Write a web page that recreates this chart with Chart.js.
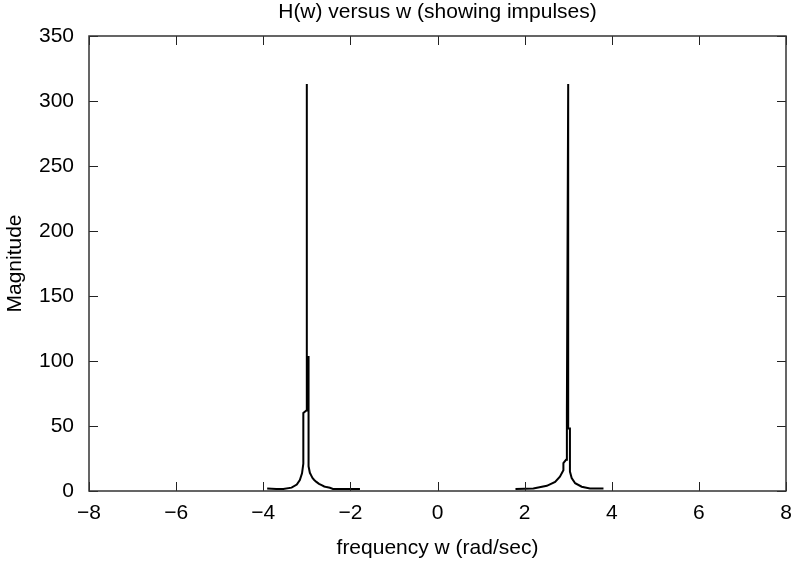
<!DOCTYPE html>
<html>
<head>
<meta charset="utf-8">
<script src="https://cdn.jsdelivr.net/npm/chart.js@4/dist/chart.umd.min.js"></script>
<style>
  html, body { margin: 0; padding: 0; background: #ffffff; }
  #wrap { width: 792px; height: 566px; }
</style>
</head>
<body>
<div id="wrap"><canvas id="c" width="792" height="566"></canvas></div>
<script>
// ---- Data ----
const titleText = "H(w) versus w (showing impulses)";
const xTitle = "frequency w (rad/sec)";
const yTitle = "Magnitude";

const xTicks = [-8, -6, -4, -2, 0, 2, 4, 6, 8];
const yTicks = [0, 50, 100, 150, 200, 250, 300, 350];

// Negative-frequency impulse region
const leftW = [-3.91, -3.70, -3.54, -3.35, -3.23, -3.16, -3.11, -3.08, -3.08, -3.01, -3.00, -3.00, -2.96, -2.96,
               -2.93, -2.90, -2.87, -2.83, -2.78, -2.72, -2.66, -2.60, -2.55, -2.47, -2.40, -2.00, -1.78];
const leftH = [2.0, 1.5, 1.5, 2.6, 5.0, 8.5, 13.6, 21, 60, 62, 313, 103, 103, 19,
               14, 12, 10, 8.5, 7, 5.5, 4.5, 3.5, 3.0, 2.5, 1.6, 1.5, 1.5];

// Positive-frequency impulse region
const rightW = [1.79, 2.20, 2.51, 2.70, 2.81, 2.89, 2.89, 2.95, 2.97, 3.00, 3.00, 3.04, 3.04,
                3.08, 3.16, 3.31, 3.50, 3.81];
const rightH = [1.5, 2.0, 4.0, 7.0, 11, 16, 21.5, 24, 61, 313, 48, 48, 15,
                10, 6.0, 3.3, 2.0, 2.0];

function toPoints(xs, ys) { return xs.map((x, i) => ({ x: x, y: ys[i] })); }

const FONT = "'Liberation Sans', Arial, Helvetica, sans-serif";
const fmt = v => String(v).replace('-', '\u2212');

// Frame and inward tick marks (gnuplot style)
const framePlugin = {
  id: 'frame',
  afterDatasetsDraw(chart) {
    const { ctx, chartArea: a, scales } = chart;
    const xs = scales.x, ys = scales.y;
    const L = 9;
    ctx.save();
    ctx.strokeStyle = '#222';
    ctx.lineWidth = 1;
    ctx.beginPath();
    xTicks.forEach(v => {
      const px = Math.round(xs.getPixelForValue(v)) + 0.5;
      ctx.moveTo(px, a.bottom); ctx.lineTo(px, a.bottom - L);
      ctx.moveTo(px, a.top); ctx.lineTo(px, a.top + L);
    });
    yTicks.forEach(v => {
      const py = Math.round(ys.getPixelForValue(v)) + 0.5;
      ctx.moveTo(a.left, py); ctx.lineTo(a.left + L, py);
      ctx.moveTo(a.right, py); ctx.lineTo(a.right - L, py);
    });
    ctx.stroke();
    ctx.lineWidth = 1.5;
    ctx.strokeStyle = '#333';
    ctx.strokeRect(a.left, a.top, a.right - a.left, a.bottom - a.top);
    ctx.restore();
  }
};

new Chart(document.getElementById('c'), {
  type: 'line',
  data: {
    datasets: [
      { data: toPoints(leftW, leftH), borderColor: '#000', borderWidth: 2, pointRadius: 0, tension: 0, fill: false },
      { data: toPoints(rightW, rightH), borderColor: '#000', borderWidth: 2, pointRadius: 0, tension: 0, fill: false }
    ]
  },
  options: {
    responsive: false,
    animation: false,
    devicePixelRatio: 1,
    layout: { padding: { left: 0, right: 6, top: 0, bottom: 0 } },
    plugins: {
      legend: { display: false },
      tooltip: { enabled: false },
      title: {
        display: true,
        fullSize: false,
        text: titleText,
        color: '#000',
        font: { family: FONT, size: 21, weight: 'normal' },
        padding: { top: 0, bottom: 10.8 }
      }
    },
    scales: {
      x: {
        type: 'linear',
        min: -8, max: 8,
        afterBuildTicks: s => { s.ticks = xTicks.map(v => ({ value: v })); },
        afterFit: s => { s.height = 75; s.paddingLeft = 0; s.paddingRight = 0; },
        grid: { display: false, drawTicks: false },
        border: { display: false },
        ticks: { color: '#000', padding: 9.4, font: { family: FONT, size: 21 }, callback: v => fmt(v), maxRotation: 0 },
        title: { display: true, text: xTitle, color: '#000', font: { family: FONT, size: 21 }, padding: { top: 0, bottom: 5.4 } }
      },
      y: {
        type: 'linear',
        min: 0, max: 350,
        afterBuildTicks: s => { s.ticks = yTicks.map(v => ({ value: v })); },
        afterFit: s => { s.width = 89; s.paddingTop = 0; s.paddingBottom = 0; },
        grid: { display: false, drawTicks: false },
        border: { display: false },
        ticks: { color: '#000', padding: 15, font: { family: FONT, size: 21 }, callback: v => fmt(v) },
        title: { display: true, text: yTitle, color: '#000', font: { family: FONT, size: 21 }, padding: { top: 2.4, bottom: 0 } }
      }
    }
  },
  plugins: [framePlugin]
});
</script>
</body>
</html>
